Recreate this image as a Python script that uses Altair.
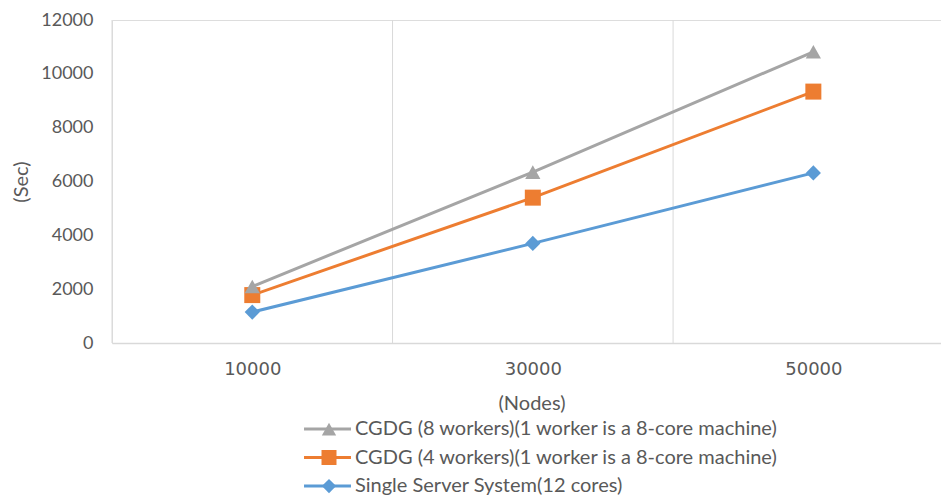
import altair as alt
import pandas as pd

# Problem sizes (number of nodes) on the category axis
nodes = [10000, 30000, 50000]

# Run time in seconds for each system
series_names = [
    "Single Server System(12 cores)",
    "CGDG (4 workers)(1 worker is a 8-core machine)",
    "CGDG (8 workers)(1 worker is a 8-core machine)",
]
single_server = [1150, 3700, 6320]
cgdg_4_workers = [1780, 5400, 9340]
cgdg_8_workers = [2100, 6350, 10820]

# Legend lists the series from the largest to the smallest
legend_order = [series_names[2], series_names[1], series_names[0]]
legend_colors = ["#A5A5A5", "#ED7D31", "#5B9BD5"]
# Marker paths: triangle, square, diamond
marker_paths = [
    "M0,-0.85L0.95,0.85L-0.95,0.85Z",
    "M-1,-1H1V1H-1Z",
    "M-0.95,0L0,-0.95L0.95,0L0,0.95Z",
]

y_ticks = [0, 2000, 4000, 6000, 8000, 10000, 12000]
# Boundaries between the node categories
category_edges = [0, 20000, 40000]

rows = []
for name, values in zip(series_names, [single_server, cgdg_4_workers, cgdg_8_workers]):
    for n, v in zip(nodes, values):
        rows.append({"nodes": n, "sec": v, "series": name})
data = pd.DataFrame(rows)
edges = pd.DataFrame({"edge": category_edges})

TEXT = "#595959"
FONT = "Lato"

x_scale = alt.Scale(domain=[0, 59100], nice=False, zero=False)
y_scale = alt.Scale(domain=[0, 12000], nice=False)

x_enc = alt.X(
    "nodes:Q",
    scale=x_scale,
    axis=alt.Axis(
        values=nodes,
        format="d",
        grid=False,
        ticks=False,
        tickSize=0,
        domain=True,
        domainColor="#D9D9D9",
        domainWidth=1.5,
        labelFont="DejaVu Sans",
        labelFontSize=18,
        labelColor=TEXT,
        labelPadding=17,
        title="(Nodes)",
        titleFont=FONT,
        titleFontSize=20,
        titleFontWeight="normal",
        titleColor=TEXT,
        titleX=419.5,
        titleY=60,
        titleBaseline="middle",
        titleAlign="center",
    ),
)
y_enc = alt.Y(
    "sec:Q",
    scale=y_scale,
    axis=alt.Axis(
        values=y_ticks,
        format="d",
        grid=False,
        ticks=False,
        tickSize=0,
        domain=False,
        labelFont=FONT,
        labelFontSize=18,
        labelColor=TEXT,
        labelPadding=19,
        title="(Sec)",
        titleFont=FONT,
        titleFontSize=20,
        titleFontWeight="normal",
        titleColor=TEXT,
        titleAngle=270,
        titleX=-90.5,
        titleBaseline="middle",
        titleAlign="center",
    ),
)

# Legend with the line samples and the series names
line_legend = alt.Legend(
    orient="none",
    legendX=205.5,
    legendY=399,
    direction="vertical",
    title=None,
    padding=0,
    symbolType="M-3.13,0H3.13",
    symbolSize=225,
    symbolStrokeWidth=3,
    labelFont=FONT,
    labelFontSize=20,
    labelColor=TEXT,
    labelOffset=17.5,
    labelLimit=0,
    rowPadding=8.5,
    zindex=1,
)
# Legend carrying only the markers (no text), laid over the line samples
marker_legend = alt.Legend(
    orient="none",
    legendX=207,
    legendY=399,
    direction="vertical",
    title=None,
    padding=0,
    symbolSize=225,
    symbolStrokeWidth=0,
    labelExpr="''",
    labelFont=FONT,
    labelFontSize=20,
    labelOffset=1.5,
    labelLimit=0,
    rowPadding=8.5,
    zindex=2,
)

grid = alt.Chart(edges).mark_rule(color="#D9D9D9", strokeWidth=1).encode(
    x=alt.X("edge:Q", scale=x_scale)
)

lines = alt.Chart(data).mark_line(strokeWidth=3).encode(
    x=x_enc,
    y=y_enc,
    color=alt.Color(
        "series:N",
        sort=legend_order,
        scale=alt.Scale(range=legend_colors),
        legend=line_legend,
    ),
    order="nodes:Q",
)

points = alt.Chart(data).mark_point(filled=True, size=256, opacity=1).encode(
    x=x_enc,
    y=y_enc,
    fill=alt.Fill(
        "series:N",
        scale=alt.Scale(domain=legend_order, range=legend_colors),
        legend=marker_legend,
    ),
    shape=alt.Shape(
        "series:N",
        scale=alt.Scale(domain=legend_order, range=marker_paths),
        legend=marker_legend,
    ),
)

chart = (
    alt.layer(grid, lines, points)
    .properties(
        width=829,
        height=323,
        autosize=alt.AutoSizeParams(type="none"),
        padding={"left": 112, "top": 20, "right": 0, "bottom": 153},
    )
    .configure_view(stroke=None)
    .configure(background="white")
)

chart.save("out.html", embed_options={"renderer": "svg", "actions": False})
